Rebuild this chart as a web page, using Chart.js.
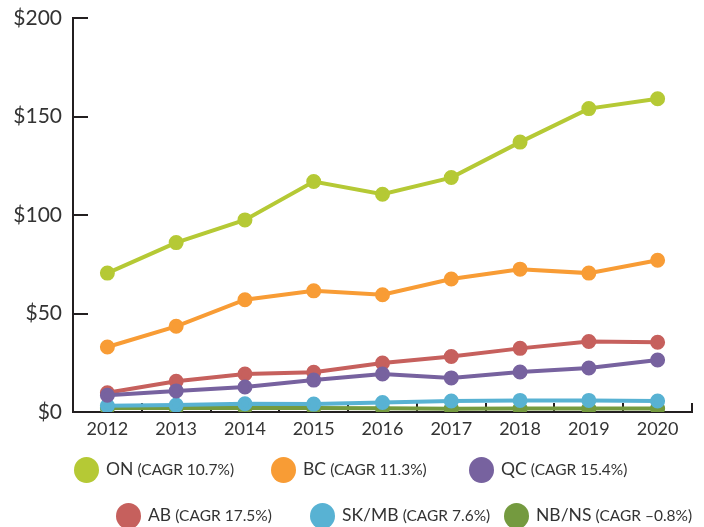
<!DOCTYPE html>
<html>
<head>
<meta charset="utf-8">
<script src="https://cdn.jsdelivr.net/npm/chart.js@4/dist/chart.umd.min.js"></script>
<style>
  html, body { margin: 0; padding: 0; background: #ffffff; }
  #wrap { position: relative; width: 704px; height: 527px; overflow: hidden; }
  #c { position: absolute; left: 0; top: 0; }
  .leg { position: absolute; white-space: nowrap; font-family: Lato, "Open Sans", sans-serif; color: #333333; }
  .dot { position: absolute; width: 25px; height: 26px; border-radius: 50%; }
  .lbl { position: absolute; line-height: 1; }
  .big { font-size: 17.5px; }
  .small { font-size: 15.5px; }
</style>
</head>
<body>
<div id="wrap">
  <canvas id="c" width="704" height="527"></canvas>
</div>
<script>
const years = ['2012','2013','2014','2015','2016','2017','2018','2019','2020'];
const regions = ['ON','BC','QC','AB','SK/MB','NB/NS'];
const cagr = ['(CAGR 10.7%)','(CAGR 11.3%)','(CAGR 15.4%)','(CAGR 17.5%)','(CAGR 7.6%)','(CAGR \u20130.8%)'];
const on   = [70.5, 86, 97.5, 117, 110.5, 119, 137, 154, 159];
const bc   = [33, 43.5, 57, 61.5, 59.5, 67.5, 72.5, 70.5, 77];
const qc   = [8.5, 10.7, 12.7, 16.2, 19.3, 17.3, 20.3, 22.3, 26.4];
const ab   = [9.8, 15.6, 19.3, 20.2, 24.9, 28.2, 32.3, 35.8, 35.4];
const skmb = [3.2, 3.5, 4.2, 4.0, 4.8, 5.6, 5.9, 5.9, 5.6];
const nbns = [2.0, 2.0, 2.0, 2.0, 1.9, 1.7, 1.8, 1.8, 1.8];
const yTicks = [0, 50, 100, 150, 200];
const colors = ['#b5c935','#f89c35','#77629f','#c6605d','#58b2d3','#749a3f'];
const series = [on, bc, qc, ab, skmb, nbns];

const datasets = series.map((d, i) => ({
  label: regions[i],
  data: d,
  borderColor: colors[i],
  backgroundColor: colors[i],
  pointBackgroundColor: colors[i],
  pointBorderColor: colors[i],
  borderWidth: 4,
  pointRadius: 5.5,
  pointHoverRadius: 5.5,
  tension: 0
}));

const axisColor = '#231f20';
new Chart(document.getElementById('c'), {
  type: 'line',
  data: { labels: years, datasets },
  options: {
    responsive: false,
    animation: false,
    events: [],
    layout: { padding: { top: 18, right: 12, left: 0, bottom: 0 } },
    plugins: { legend: { display: false }, tooltip: { enabled: false } },
    scales: {
      x: {
        offset: true,
        grid: { offset: true, drawOnChartArea: false, drawTicks: true, tickLength: -9, color: axisColor, lineWidth: 2 },
        border: { display: true, color: axisColor, width: 2 },
        ticks: { color: '#333333', font: { family: 'Lato', size: 18 }, padding: 15, maxRotation: 0, autoSkip: false },
        afterFit: s => { s.height = 115; s.paddingLeft = 0; s.paddingRight = 0; }
      },
      y: {
        min: 0, max: 200,
        afterBuildTicks: s => { s.ticks = yTicks.map(v => ({ value: v })); },
        grid: { drawOnChartArea: false, drawTicks: true, tickLength: -15, color: axisColor, lineWidth: 2 },
        border: { display: true, color: axisColor, width: 2 },
        ticks: { color: '#333333', font: { family: 'Lato', size: 21 }, padding: 26, callback: v => '$' + v },
        afterFit: s => { s.width = 73; s.paddingTop = 0; s.paddingBottom = 0; }
      }
    }
  }
});

// HTML legend built from the arrays
const pos = [[86,470],[283,470],[481,470],[128,516],[322,516],[516,516]];
const wrap = document.getElementById('wrap');
regions.forEach((r, i) => {
  const [cx, cy] = pos[i];
  const dot = document.createElement('div');
  dot.className = 'dot';
  dot.style.background = colors[i];
  dot.style.left = (cx - 12.5) + 'px';
  dot.style.top = (cy - 13) + 'px';
  wrap.appendChild(dot);
  const lbl = document.createElement('div');
  lbl.className = 'leg lbl';
  lbl.style.left = (cx + 20) + 'px';
  lbl.style.top = (cy - 10) + 'px';
  lbl.innerHTML = '<span class="big">' + r + '</span> <span class="small">' + cagr[i] + '</span>';
  wrap.appendChild(lbl);
});
</script>
</body>
</html>
